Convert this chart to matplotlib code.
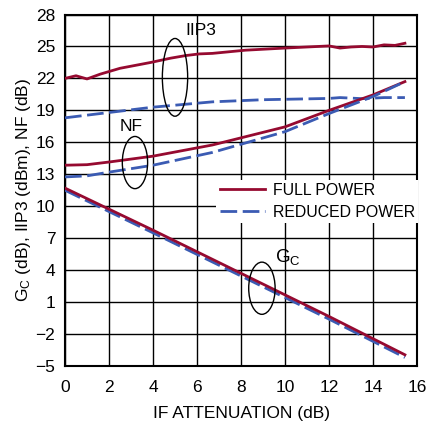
import matplotlib
matplotlib.use("Agg")
import matplotlib.pyplot as plt
from matplotlib.patches import Ellipse
from matplotlib import font_manager

fams = {f.name for f in font_manager.fontManager.ttflist}
FONT = "Liberation Sans Narrow" if "Liberation Sans Narrow" in fams else "Liberation Sans"
plt.rcParams['font.family'] = [FONT, 'DejaVu Sans']
plt.rcParams['mathtext.fontset'] = 'custom'
plt.rcParams['mathtext.rm'] = FONT
plt.rcParams['mathtext.it'] = FONT
plt.rcParams['mathtext.default'] = 'rm'

# ---- data ----
x_iip3_full = [0, 0.5, 1.0, 1.6, 2.5, 3.9, 4.8, 5.5, 6.1, 6.7, 8.2, 10.0, 12.0, 12.5, 13.0, 13.5, 14.0, 14.5, 15.0, 15.45]
iip3_full   = [22.0, 22.25, 21.95, 22.4, 22.95, 23.5, 23.9, 24.15, 24.3, 24.35, 24.65, 24.85, 25.05, 24.85, 24.95, 25.0, 24.95, 25.15, 25.1, 25.3]
x_iip3_red  = [0, 2, 4, 6.7, 9, 12, 12.5, 13.5, 14.5, 15.45]
iip3_red    = [18.3, 18.8, 19.3, 19.8, 20.0, 20.12, 20.2, 20.1, 20.2, 20.2]
x_nf        = [0, 1, 2, 4, 6.7, 10, 12, 14, 15.45]
nf_full     = [13.85, 13.9, 14.15, 14.7, 15.75, 17.45, 19.0, 20.45, 21.7]
nf_red      = [12.75, 12.85, 13.2, 13.85, 15.05, 17.0, 18.7, 20.3, 21.7]
x_gc        = [0, 4, 8, 12, 15.45]
gc_full     = [11.7, 7.75, 3.7, -0.35, -3.95]
gc_red      = [11.5, 7.5, 3.45, -0.6, -4.2]

xticks = list(range(0, 17, 2))
yticks = list(range(-5, 29, 3))
ytick_labels = [("\u2212%d" % -v) if v < 0 else str(v) for v in yticks]

RED = "#960a30"
BLUE = "#3b5bb3"

fig = plt.figure(figsize=(4.26, 4.23), dpi=100)
ax = fig.add_axes([0.1526, 0.1348, 0.8263, 0.8309])

lw = 2.0
dash = (6, 2)
ax.plot(x_iip3_full, iip3_full, color=RED, lw=lw, zorder=3)
ax.plot(x_iip3_red, iip3_red, color=BLUE, lw=lw, dashes=dash, zorder=3)
ax.plot(x_nf, nf_full, color=RED, lw=lw, zorder=3)
ax.plot(x_nf, nf_red, color=BLUE, lw=lw, dashes=dash, zorder=3)
ax.plot(x_gc, gc_red, color=BLUE, lw=lw, dashes=dash, zorder=3)
ax.plot(x_gc, gc_full, color=RED, lw=lw, zorder=3, label="FULL POWER")
ax.plot([], [], color=BLUE, lw=lw, dashes=dash, label="REDUCED POWER")

ax.set_xlim(0, 16)
ax.set_ylim(-5, 28)
ax.set_xticks(xticks)
ax.set_yticks(yticks)
ax.set_yticklabels(ytick_labels)
ax.grid(True, color="black", lw=1.0, zorder=0)
for s in ax.spines.values():
    s.set_linewidth(1.5)
ax.tick_params(length=0, labelsize=12.5)
ax.tick_params(axis="x", pad=10)
ax.tick_params(axis="y", pad=7)
ax.set_xlabel("IF ATTENUATION (dB)", fontsize=12.5, labelpad=8)
ax.set_ylabel("G$_\\mathrm{C}$ (dB), IIP3 (dBm), NF (dB)", fontsize=12.5, labelpad=2)

# annotations (ellipses in data coords)
ax.add_patch(Ellipse((5.0, 22.1), 1.15, 7.3, fill=False, lw=1.0, color="black", zorder=4))
ax.text(5.45, 26.5, "IIP3", fontsize=12.5, ha="left", va="center")
ax.add_patch(Ellipse((3.18, 14.1), 1.15, 4.9, fill=False, lw=1.0, color="black", zorder=4))
ax.text(3.0, 17.5, "NF", fontsize=12.5, ha="center", va="center")
ax.add_patch(Ellipse((8.95, 2.3), 1.2, 4.9, fill=False, lw=1.0, color="black", zorder=4))
ax.text(9.55, 5.2, "G$_\\mathrm{C}$", fontsize=13.5, ha="left", va="center")

leg = ax.legend(loc="upper left", bbox_to_anchor=(0.43, 0.53), frameon=True,
                fontsize=11.4, handlelength=2.9, handletextpad=0.45, labelspacing=0.45,
                borderpad=0.2, borderaxespad=0, fancybox=False)
leg.get_frame().set_edgecolor("none")
leg.get_frame().set_facecolor("white")
leg.get_frame().set_alpha(1)
leg.set_zorder(5)

fig.savefig("out.png", dpi=100)
